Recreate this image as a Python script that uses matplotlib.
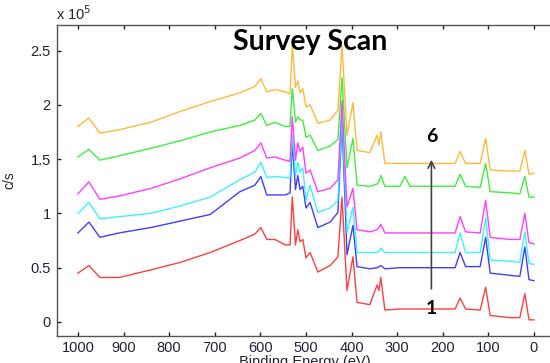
import matplotlib
matplotlib.use("Agg")
import matplotlib.pyplot as plt
from matplotlib.ticker import FuncFormatter

# Binding energy grid (eV)
binding_energy = [1000, 976, 952, 910, 840, 775, 710, 645, 612, 599, 586, 568, 546, 535, 530, 523,
                  518, 513, 507, 500, 491, 474, 447, 430, 421, 410, 397, 388, 360, 344, 340, 336,
                  327, 294, 283, 272, 228, 173, 162, 150, 118, 106, 96, 53, 31, 20, 11, 0]

# Intensities in units of 1e5 c/s
s1_red = [0.45, 0.52, 0.41, 0.41, 0.48, 0.55, 0.64, 0.75, 0.81, 0.87, 0.76, 0.76, 0.71, 0.71, 1.15, 0.71,
          0.85, 0.74, 0.76, 0.59, 0.64, 0.46, 0.52, 0.60, 1.15, 0.29, 0.60, 0.18, 0.16, 0.34, 0.29, 0.41,
          0.11, 0.12, 0.12, 0.12, 0.12, 0.12, 0.22, 0.12, 0.11, 0.32, 0.06, 0.04, 0.04, 0.26, 0.02, 0.02]
s2_blue = [0.82, 0.92, 0.78, 0.82, 0.87, 0.93, 0.99, 1.20, 1.26, 1.34, 1.17, 1.17, 1.17, 1.19, 1.65, 1.22,
           1.35, 1.22, 1.25, 1.05, 1.10, 0.87, 0.92, 1.01, 1.85, 0.62, 0.89, 0.51, 0.49, 0.50, 0.51, 0.52,
           0.49, 0.50, 0.50, 0.50, 0.50, 0.50, 0.64, 0.51, 0.51, 0.78, 0.45, 0.43, 0.42, 0.69, 0.39, 0.38]
s3_cyan = [1.00, 1.10, 0.95, 0.97, 1.00, 1.07, 1.15, 1.31, 1.38, 1.47, 1.33, 1.34, 1.33, 1.33, 1.72, 1.35,
           1.47, 1.38, 1.42, 1.12, 1.26, 1.01, 1.05, 1.12, 1.90, 0.82, 1.06, 0.64, 0.64, 0.64, 0.65, 0.68,
           0.64, 0.64, 0.64, 0.64, 0.64, 0.64, 0.82, 0.64, 0.64, 0.96, 0.57, 0.56, 0.55, 0.83, 0.54, 0.53]
s4_magenta = [1.18, 1.29, 1.13, 1.16, 1.23, 1.32, 1.42, 1.51, 1.58, 1.65, 1.51, 1.52, 1.49, 1.48, 1.89, 1.49,
              1.65, 1.57, 1.61, 1.37, 1.40, 1.20, 1.23, 1.31, 2.04, 1.06, 1.23, 0.85, 0.83, 0.85, 0.87, 0.90,
              0.82, 0.82, 0.82, 0.82, 0.82, 0.82, 0.97, 0.83, 0.82, 1.12, 0.78, 0.76, 0.76, 1.00, 0.73, 0.72]
s5_green = [1.52, 1.59, 1.49, 1.53, 1.60, 1.67, 1.75, 1.81, 1.86, 1.92, 1.81, 1.84, 1.80, 1.80, 2.15, 1.84,
            1.89, 1.86, 1.86, 1.70, 1.72, 1.58, 1.62, 1.68, 2.25, 1.42, 1.69, 1.26, 1.25, 1.27, 1.29, 1.35,
            1.25, 1.25, 1.34, 1.25, 1.25, 1.25, 1.36, 1.25, 1.24, 1.46, 1.20, 1.19, 1.18, 1.34, 1.15, 1.15]
s6_orange = [1.80, 1.88, 1.74, 1.77, 1.84, 1.94, 2.03, 2.11, 2.17, 2.24, 2.12, 2.14, 2.12, 2.10, 2.55, 2.16,
             2.22, 2.11, 2.15, 1.98, 2.00, 1.83, 1.86, 1.95, 2.54, 1.72, 2.02, 1.58, 1.56, 1.72, 1.63, 1.75,
             1.46, 1.46, 1.46, 1.46, 1.46, 1.46, 1.57, 1.46, 1.46, 1.69, 1.40, 1.39, 1.39, 1.58, 1.36, 1.37]

series = [s1_red, s2_blue, s3_cyan, s4_magenta, s5_green, s6_orange]
colors = ["#ff2a2a", "#2a2aff", "#2af0ff", "#ff2aff", "#2aee2a", "#ffb224"]

title = "Survey Scan"
x_ticks = [1000, 900, 800, 700, 600, 500, 400, 300, 200, 100, 0]
y_ticks = [0, 0.5, 1.0, 1.5, 2.0, 2.5]
scale = 1e5

plt.rcParams['font.family'] = ['Liberation Sans', 'DejaVu Sans']
fig = plt.figure(figsize=(5.5, 3.63), dpi=100)
ax = fig.add_axes([57/550, 1 - 336/363, 495/550, (336 - 25)/363])

for vals, c in zip(series, colors):
    ax.plot(binding_energy, [v * scale for v in vals], color=c, lw=1.0, alpha=0.9)

ax.set_xlim(1046, -39.5)
ax.set_ylim(-0.129 * scale, 2.735 * scale)
ax.set_xticks(x_ticks)
ax.set_yticks([v * scale for v in y_ticks])
ax.yaxis.set_major_formatter(FuncFormatter(lambda v, p: f"{v / scale:g}"))

for s in ['left', 'bottom', 'top']:
    ax.spines[s].set_color('#555555')
    ax.spines[s].set_linewidth(1.0)
ax.spines['right'].set_visible(False)
ax.tick_params(direction='in', top=True, right=False, length=3, width=1,
               color='#222222', labelsize=10.5, labelcolor='#222233')
ax.tick_params(axis='y', pad=4.5)

ax.text(-0.003, 1.005, r"x 10$^{5}$", transform=ax.transAxes, ha='left', va='bottom',
        fontsize=10.5, color='#222233')

ax.set_xlabel("Binding Energy (eV)", fontsize=10.5, color='#222233', labelpad=0)
ax.set_ylabel("c/s", fontsize=10, color='#222233')
ax.yaxis.set_label_coords(-(57 - 16) / 495, 0.5)

ax.text(0.512, 0.945, title, transform=ax.transAxes, ha='center', va='center',
        fontsize=20.5, fontweight='bold', family=['Lato', 'DejaVu Sans'], color='black')

ax.annotate("", xy=(225, 1.52 * scale), xytext=(225, 0.28 * scale),
            arrowprops=dict(arrowstyle='->', color='#444444', lw=1.2, mutation_scale=12))
ax.text(225, 1.71 * scale, "6", ha='center', va='center', fontsize=14, fontweight='bold',
        family=['Lato', 'DejaVu Sans'])
ax.text(225, 0.12 * scale, "1", ha='center', va='center', fontsize=14, fontweight='bold',
        family=['Lato', 'DejaVu Sans'])

fig.savefig("out.png", dpi=100)
